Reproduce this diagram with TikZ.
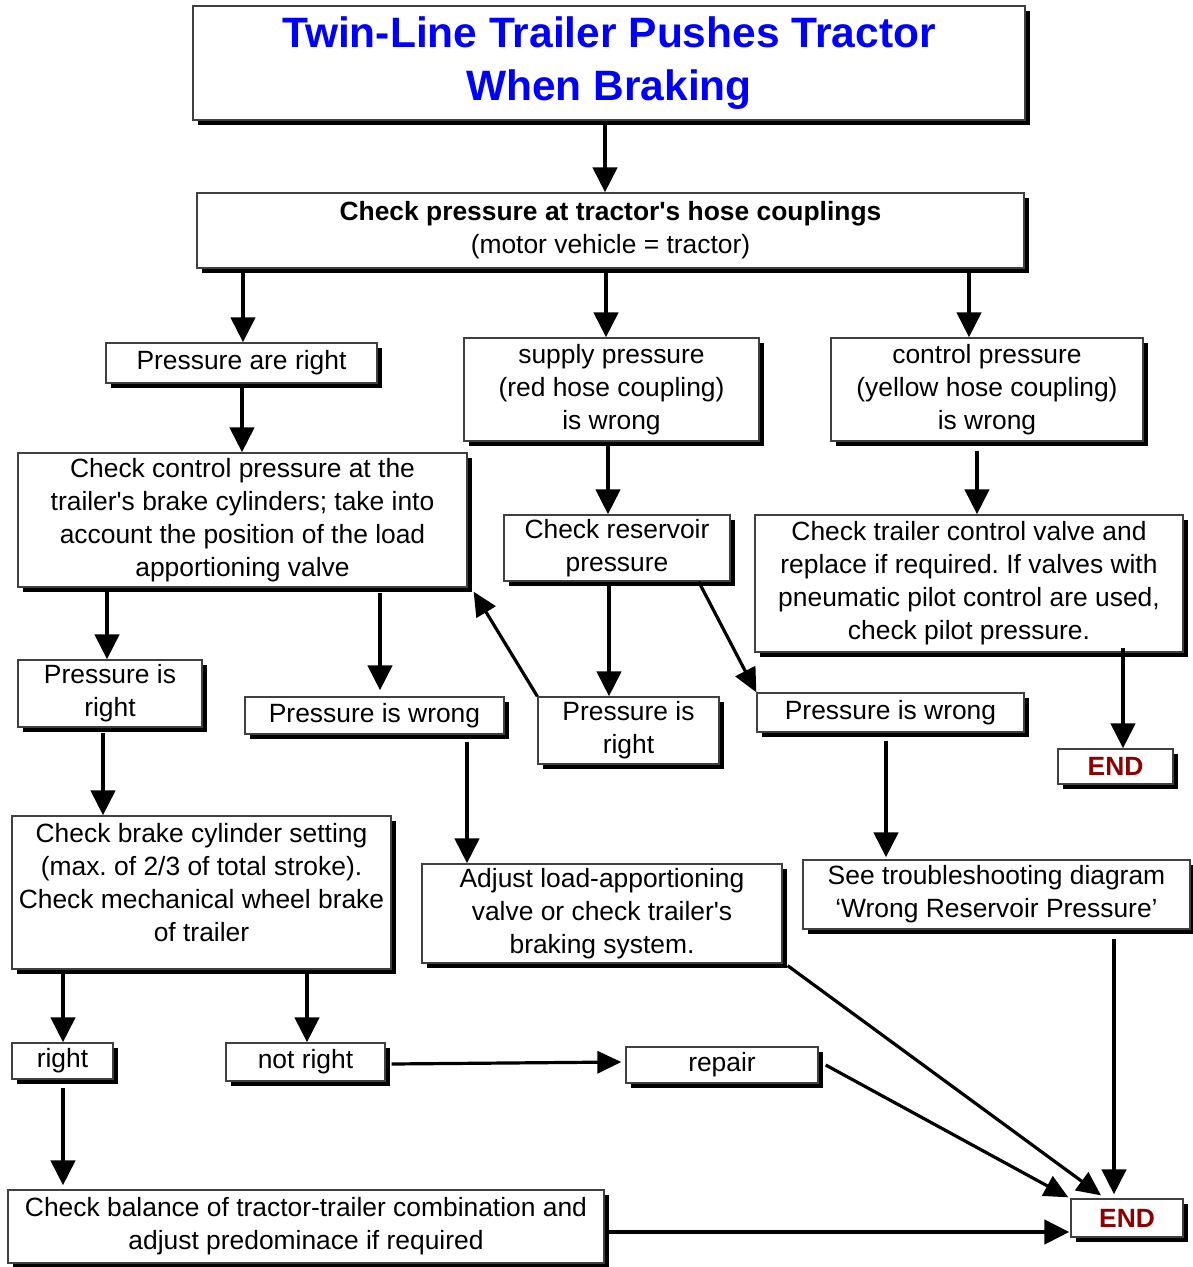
\documentclass[tikz,border=0pt]{standalone}
\usepackage{fontspec}
\setmainfont{Liberation Sans}
\usetikzlibrary{arrows.meta,shadows}
\definecolor{endred}{RGB}{140,0,0}
\newcommand\txtfont{\fontsize{26.4}{33}\selectfont\frenchspacing}
\newcommand\ttlfont{\fontsize{42.5}{53}\selectfont\bfseries\color{blue}}
\newcommand\stopmark{{\bfseries\color{endred}END}}
\begin{document}
\begin{tikzpicture}[x=1pt,y=-1pt,
  box/.style={draw=black!75, line width=1.3pt, fill=white, inner sep=0pt,
    align=center, font=\txtfont,
    drop shadow={shadow xshift=5pt,shadow yshift=-5pt,fill=black,opacity=1}},
  arr/.style={line width=4.5pt, -{Triangle[length=25pt,width=24pt]}},
  slant/.style={line width=3.2pt, -{Triangle[length=24pt,width=22pt]}}]
\useasboundingbox (0,0) rectangle (1193,1267);
\fill[white] (0,0) rectangle (1193,1267);

% boxes
\node[box, font=\ttlfont, minimum width=832pt, minimum height=114pt] (title) at (609,63)
  {Twin-Line Trailer Pushes Tractor\\When Braking};
\node[box, minimum width=827pt, minimum height=75pt] (chk) at (610.5,230.5)
  {\bfseries Check pressure at tractor\textquotesingle s hose couplings\\(motor vehicle = tractor)};
\node[box, minimum width=271pt, minimum height=40pt] (pr) at (241.5,363) {Pressure are right};
\node[box, minimum width=295pt, minimum height=103pt] (sup) at (611.5,389.5)
  {supply pressure\\(red hose coupling)\\is wrong};
\node[box, minimum width=312pt, minimum height=103pt] (ctl) at (987,389.5)
  {control pressure\\(yellow hose coupling)\\is wrong};
\node[box, minimum width=449pt, minimum height=134pt] (ccp) at (242.5,520)
  {Check control pressure at the\\trailer\textquotesingle s brake cylinders; take into\\account the position of the load\\apportioning valve};
\node[box, minimum width=226pt, minimum height=66pt] (res) at (617,548)
  {Check reservoir\\pressure};
\node[box, minimum width=428pt, minimum height=137pt] (tcv) at (969,583.5)
  {Check trailer control valve and\\replace if required. If valves with\\pneumatic pilot control are used,\\check pilot pressure.};
\node[box, minimum width=184pt, minimum height=67pt] (pir1) at (110,693.5) {Pressure is\\right};
\node[box, minimum width=259pt, minimum height=37pt] (piw1) at (374.5,715.5) {Pressure is wrong};
\node[box, minimum width=181pt, minimum height=67pt] (pir2) at (628.5,730.5) {Pressure is\\right};
\node[box, minimum width=267pt, minimum height=39pt] (piw2) at (890.5,712.5) {Pressure is wrong};
\node[box, minimum width=115pt, minimum height=35pt] (end1) at (1115.5,766.5) {\stopmark};
\node[box, minimum width=379pt, minimum height=153pt] (brk) at (201.5,892.5)
  {Check brake cylinder setting\\(max. of 2/3 of total stroke).\\Check mechanical wheel brake\\of trailer\\[-13pt]\mbox{}};
\node[box, minimum width=360pt, minimum height=99pt] (adj) at (602,913.5)
  {Adjust load-apportioning\\valve or check trailer\textquotesingle s\\braking system.};
\node[box, minimum width=387pt, minimum height=69pt] (see) at (996.5,894.5)
  {See troubleshooting diagram\\‘Wrong Reservoir Pressure’};
\node[box, minimum width=101pt, minimum height=36pt] (rt) at (62.5,1061) {right};
\node[box, minimum width=159pt, minimum height=38pt] (nrt) at (305.5,1062) {not right};
\node[box, minimum width=192pt, minimum height=36pt] (rep) at (722,1065) {repair};
\node[box, minimum width=112pt, minimum height=38pt] (end2) at (1127,1218) {\stopmark};
\node[box, minimum width=596pt, minimum height=73pt] (bal) at (306,1226.5)
  {Check balance of tractor-trailer combination and\\adjust predominace if required};

% connectors
\draw[arr] (title.south -| 605,0) -- (chk.north -| 605,0);
\draw[arr] (chk.south -| 243,0) -- (pr.north -| 243,0);
\draw[arr] (chk.south -| 606,0) -- (sup.north -| 606,0);
\draw[arr] (chk.south -| 969,0) -- (ctl.north -| 969,0);
\draw[arr] (pr.south -| 242,0) -- (ccp.north -| 242,0);
\draw[arr] (sup.south -| 608,0) -- (res.north -| 608,0);
\draw[arr] ([yshift=-9pt]ctl.south -| 977,0) -- (tcv.north -| 977,0);
\draw[arr] (ccp.south -| 107,0) -- (pir1.north -| 107,0);
\draw[arr] ([yshift=-5pt]ccp.south -| 380,0) -- ([yshift=6pt]piw1.north -| 380,0);
\draw[arr] (res.south -| 609,0) -- (pir2.north -| 609,0);
\draw[slant] ([xshift=-32pt]res.south east) -- (piw2.north west);
\draw[slant] (pir2.north west) -- ([xshift=6pt,yshift=-4pt]ccp.south east);
\draw[arr] ([yshift=5pt]tcv.south -| 1123,0) -- (end1.north -| 1123,0);
\draw[arr] ([yshift=-8pt]piw2.south -| 886,0) -- ([yshift=2pt]see.north -| 886,0);
\draw[arr] ([yshift=-5pt]pir1.south -| 103,0) -- (brk.north -| 103,0);
\draw[arr] ([yshift=-7pt]piw1.south -| 467,0) -- (adj.north -| 467,0);
\draw[arr] ([yshift=-4pt]brk.south -| 63,0) -- (rt.north -| 63,0);
\draw[arr] ([yshift=-4pt]brk.south -| 307,0) -- (nrt.north -| 307,0);
\draw[slant] ([xshift=6pt,yshift=-2pt]nrt.east) -- ([xshift=-4pt,yshift=3pt]rep.west);
\draw[arr] ([yshift=-8pt]rt.south -| 63,0) -- ([yshift=4pt]bal.north -| 63,0);
\draw[slant] ([xshift=5pt,yshift=-2pt]adj.south east) -- ([yshift=3pt]end2.north -| 1101,0);
\draw[slant] ([xshift=7pt]rep.east) -- ([xshift=-2pt,yshift=1pt]end2.north west);
\draw[arr] ([yshift=-9pt]see.south -| 1114,0) -- ([yshift=4pt]end2.north -| 1114,0);
\draw[arr] (bal.east |- 0,1232) -- ([xshift=-1pt]end2.west |- 0,1232);
\end{tikzpicture}
\end{document}
